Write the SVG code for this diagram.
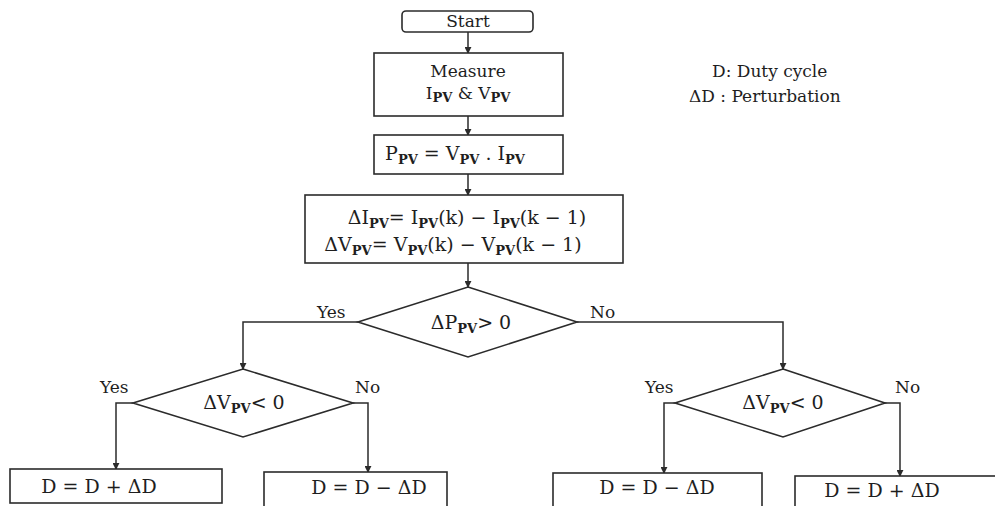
<svg xmlns="http://www.w3.org/2000/svg" width="995" height="506" viewBox="0 0 995 506">
  <style>
    .box { fill: #ffffff; stroke: #2b2b2b; stroke-width: 1.6; }
    .wire { fill: none; stroke: #2b2b2b; stroke-width: 1.5; }
    text { font-family: "DejaVu Serif", "Liberation Serif", serif; fill: #1e1e1e; }
    .lbl { font-size: 17px; }
    .eq { font-size: 19px; }
    .sub { font-size: 13px; font-weight: bold; }
    .mid { text-anchor: middle; }
  </style>
  <defs>
    <marker id="arrow" viewBox="0 0 8 8" refX="7" refY="4" markerWidth="7" markerHeight="7" markerUnits="userSpaceOnUse" orient="auto">
      <path d="M0,0 L8,4 L0,8 Z" fill="#2b2b2b"/>
    </marker>
  </defs>
  <rect width="995" height="506" fill="#ffffff"/>

  <!-- connectors -->
  <g id="connectors">
    <path class="wire" d="M468,32 V53" marker-end="url(#arrow)"/>
    <path class="wire" d="M468,116 V135" marker-end="url(#arrow)"/>
    <path class="wire" d="M468,174 V195" marker-end="url(#arrow)"/>
    <path class="wire" d="M468,263 V287" marker-end="url(#arrow)"/>
    <path class="wire" d="M358,322 H243 V369" marker-end="url(#arrow)"/>
    <path class="wire" d="M577,322 H783 V369" marker-end="url(#arrow)"/>
    <path class="wire" d="M133,403 H116 V469" marker-end="url(#arrow)"/>
    <path class="wire" d="M353,403 H368 V472" marker-end="url(#arrow)"/>
    <path class="wire" d="M675,403 H664 V473" marker-end="url(#arrow)"/>
    <path class="wire" d="M885,403 H900 V476" marker-end="url(#arrow)"/>
  </g>

  <!-- branch labels -->
  <g id="branch-labels" class="lbl">
    <text x="317" y="318">Yes</text>
    <text x="590" y="318">No</text>
    <text x="100" y="393">Yes</text>
    <text x="355" y="393">No</text>
    <text x="645" y="393">Yes</text>
    <text x="895" y="393">No</text>
  </g>

  <g id="start">
    <rect class="box" x="402" y="11" width="131" height="21" rx="4"/>
    <text class="lbl mid" x="468" y="27">Start</text>
  </g>

  <g id="measure">
    <rect class="box" x="374" y="53" width="189" height="63"/>
    <text class="lbl mid" x="468" y="77">Measure</text>
    <text class="lbl mid" x="468" y="99">I<tspan class="sub" dy="3">PV</tspan><tspan dy="-3"> &amp; V</tspan><tspan class="sub" dy="3">PV</tspan></text>
  </g>

  <g id="legend" class="lbl">
    <text x="712" y="77">D: Duty cycle</text>
    <text x="689" y="102">ΔD : Perturbation</text>
  </g>

  <g id="power">
    <rect class="box" x="374" y="135" width="189" height="39"/>
    <text class="eq mid" x="455" y="160">P<tspan class="sub" dy="4">PV</tspan><tspan dy="-4"> = V</tspan><tspan class="sub" dy="4">PV</tspan><tspan dy="-4"> . I</tspan><tspan class="sub" dy="4">PV</tspan></text>
  </g>

  <g id="deltas">
    <rect class="box" x="305" y="195" width="318" height="68"/>
    <text class="eq mid" x="467" y="224">ΔI<tspan class="sub" dy="4">PV</tspan><tspan dy="-4">= I</tspan><tspan class="sub" dy="4">PV</tspan><tspan dy="-4">(k) − I</tspan><tspan class="sub" dy="4">PV</tspan><tspan dy="-4">(k − 1)</tspan></text>
    <text class="eq mid" x="453" y="251">ΔV<tspan class="sub" dy="4">PV</tspan><tspan dy="-4">= V</tspan><tspan class="sub" dy="4">PV</tspan><tspan dy="-4">(k) − V</tspan><tspan class="sub" dy="4">PV</tspan><tspan dy="-4">(k − 1)</tspan></text>
  </g>

  <g id="check-power">
    <polygon class="box" points="468,287 577,322 468,357 358,322"/>
    <text class="eq mid" x="471" y="329">ΔP<tspan class="sub" dy="4">PV</tspan><tspan dy="-4">&gt; 0</tspan></text>
  </g>

  <g id="check-voltage-left">
    <polygon class="box" points="243,369 353,403 243,437 133,403"/>
    <text class="eq mid" x="244" y="409">ΔV<tspan class="sub" dy="4">PV</tspan><tspan dy="-4">&lt; 0</tspan></text>
  </g>

  <g id="check-voltage-right">
    <polygon class="box" points="783,369 885,403 783,437 675,403"/>
    <text class="eq mid" x="783" y="409">ΔV<tspan class="sub" dy="4">PV</tspan><tspan dy="-4">&lt; 0</tspan></text>
  </g>

  <g id="increase-left">
    <rect class="box" x="10" y="469" width="212" height="34"/>
    <text class="eq mid" x="99" y="493">D = D + ΔD</text>
  </g>

  <g id="decrease-left">
    <rect class="box" x="264" y="472" width="183" height="40"/>
    <text class="eq mid" x="369" y="494">D = D  − ΔD</text>
  </g>

  <g id="decrease-right">
    <rect class="box" x="553" y="473" width="209" height="40"/>
    <text class="eq mid" x="657" y="494">D = D  − ΔD</text>
  </g>

  <g id="increase-right">
    <rect class="box" x="795" y="476" width="220" height="40"/>
    <text class="eq mid" x="882" y="497">D = D + ΔD</text>
  </g>
</svg>
